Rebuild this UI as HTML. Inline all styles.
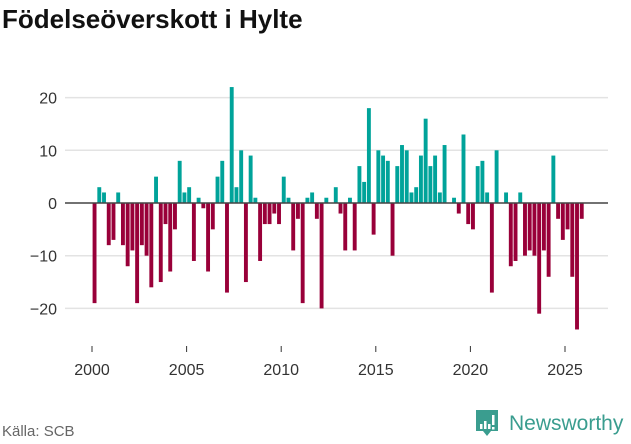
<!DOCTYPE html>
<html><head><meta charset="utf-8"><style>
body{margin:0;background:#fff;width:631px;height:439px;overflow:hidden;font-family:"Liberation Sans",sans-serif}
</style></head><body>
<svg width="631" height="439" xmlns="http://www.w3.org/2000/svg">
<text x="2" y="28" font-size="26" font-weight="bold" fill="#111">Födelseöverskott i Hylte</text>
<g id="grid"></g>
<g id="bars"></g>
<g id="xaxis"></g>
<text x="2" y="436" font-size="15" fill="#666">Källa: SCB</text>
<g>
<path d="M476 410 h22 v21 h-7 l-4 5 l-4 -5 h-7 z" fill="#3a9d8f"/>
<rect x="480" y="424" width="2.5" height="5" fill="#fff"/><rect x="484" y="421" width="2.5" height="8" fill="#fff"/><rect x="488" y="424" width="2.5" height="5" fill="#fff"/><rect x="492" y="415" width="2.5" height="10" fill="#fff"/><rect x="492" y="427" width="2.5" height="2.5" fill="#fff"/>
<text x="509" y="430" font-size="21" fill="#3a9d8f">Newsworthy</text>
</g>
</svg>
<script>
const values=[-19,3,2,-8,-7,2,-8,-12,-9,-19,-8,-10,-16,5,-15,-4,-13,-5,8,2,3,-11,1,-1,-13,-5,
5,8,-17,22,3,10,-15,9,1,-11,-4,-4,-2,-4,5,1,-9,-3,-19,1,2,-3,-20,1,
0,
3,-2,-9,1,-9,7,4,18,-6,10,9,8,-10,7,11,10,2,3,9,16,7,9,2,11,
0,
1,-2,13,-4,-5,7,8,2,-17,10,
0,
2,-12,-11,2,-10,-9,-10,-21,-9,-14,9,-3,-7,-5,-14,-24,-3];
const startYear=2000;
const yTicks=[-20,-10,0,10,20];
const xTicks=[2000,2005,2010,2015,2020,2025];
const NS="http://www.w3.org/2000/svg";
const x=t=>92+(t-2000)*18.92;
const y=v=>203-v*5.27;
function mk(tag,attrs,parent){const e=document.createElementNS(NS,tag);for(const k in attrs)e.setAttribute(k,attrs[k]);parent.appendChild(e);return e;}
const grid=document.getElementById('grid'),bars=document.getElementById('bars'),xa=document.getElementById('xaxis');
yTicks.forEach(v=>{
 if(v!==0){const l=mk('line',{x1:65,x2:608,y1:y(v),y2:y(v),stroke:'#e3e3e3','stroke-width':1.5},grid);
 
 }
 const t=mk('text',{x:57,y:y(v)+6,'text-anchor':'end','font-size':16,fill:'#333'},grid);
 t.textContent=(v<0?'\u2212'+(-v):v);
 
 
});
values.forEach((v,i)=>{
 if(v===0)return;
 const t=startYear+i/4;
 const r=mk('rect',{x:x(t)+0.6,width:3.9,y:v>0?y(v):y(0),height:Math.abs(y(v)-y(0)),fill:v>0?'#00a39a':'#990039'},bars);
 
 
});
const z=mk('line',{x1:65,x2:608,y1:y(0),y2:y(0),stroke:'#444','stroke-width':1.5},grid.parentNode);


xTicks.forEach(yr=>{
 const l=mk('line',{x1:x(yr),x2:x(yr),y1:346,y2:352,stroke:'#333','stroke-width':1},xa);
 
 
 const t=mk('text',{x:x(yr),y:375,'text-anchor':'middle','font-size':16,fill:'#333'},xa);
 t.textContent=yr;
 
 
});
</script>
</body></html>
